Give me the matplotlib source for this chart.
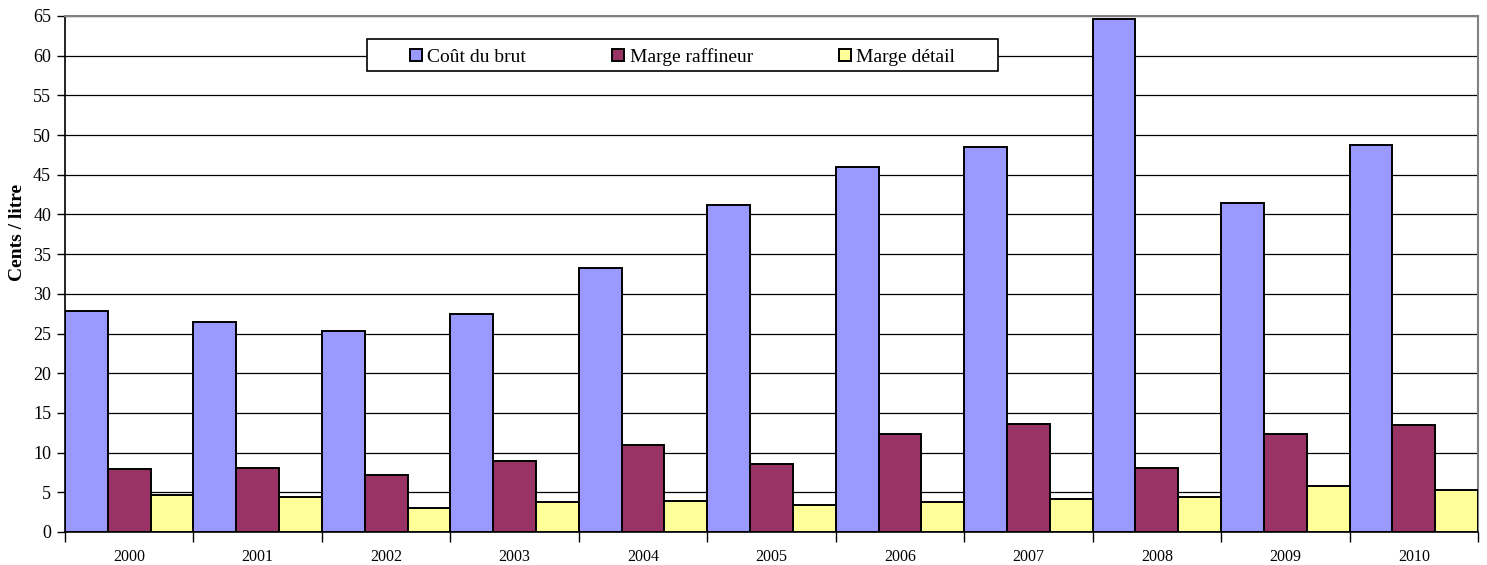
import matplotlib
matplotlib.use("Agg")
import matplotlib.pyplot as plt
from matplotlib.patches import Rectangle
import numpy as np

years = ["2000", "2001", "2002", "2003", "2004", "2005", "2006", "2007", "2008", "2009", "2010"]
cout_brut = [27.9, 26.5, 25.3, 27.4, 33.2, 41.2, 46.0, 48.5, 64.6, 41.5, 48.8]
marge_raffineur = [7.95, 8.0, 7.2, 9.0, 11.0, 8.6, 12.3, 13.6, 8.1, 12.3, 13.5]
marge_detail = [4.6, 4.4, 3.0, 3.8, 3.9, 3.4, 3.8, 4.1, 4.45, 5.8, 5.3]
series_names = ["Coût du brut", "Marge raffineur", "Marge détail"]
colors = ["#9999FF", "#993366", "#FFFF99"]
yticks = list(range(0, 70, 5))

plt.rcParams['font.family'] = ['Liberation Serif', 'DejaVu Serif']

fig = plt.figure(figsize=(14.87, 5.65), dpi=100)
ax = fig.add_axes([65/1487, 1 - 532/565, (1478 - 65)/1487, (532 - 16)/565])

x = np.arange(len(years))
w = 1/3
for i, (vals, name, c) in enumerate(zip([cout_brut, marge_raffineur, marge_detail], series_names, colors)):
    ax.bar(x - 0.5 + i*w, vals, width=w, align='edge', color=c, edgecolor='black',
           linewidth=1.4, label=name, zorder=3)

ax.set_xlim(-0.5, len(years) - 0.5)
ax.set_ylim(0, 65)
ax.set_yticks(yticks)
ax.set_yticklabels([str(t) for t in yticks], fontsize=13)
ax.yaxis.grid(True, color='black', linewidth=0.9, zorder=0)
ax.set_axisbelow(True)

ax.set_xticks(np.arange(len(years) + 1) - 0.5)
ax.set_xticklabels([])
ax.set_xticks(x, minor=True)
ax.set_xticklabels(years, minor=True, fontsize=11.5)
ax.tick_params(axis='x', which='minor', length=0, pad=12)
ax.tick_params(axis='x', which='major', length=7, width=1, direction='out')
ax.tick_params(axis='y', length=6, width=1, direction='out', pad=4)

for s in ['top', 'right']:
    ax.spines[s].set_color('#808080')
    ax.spines[s].set_linewidth(1.5)
for s in ['left', 'bottom']:
    ax.spines[s].set_color('black')
    ax.spines[s].set_linewidth(1.2)

ax.set_ylabel("Cents / litre", fontsize=14, fontweight='bold')
ax.yaxis.label.set_va('center')
ax.yaxis.set_label_coords(-0.0333, 0.581)

# legend frame
frame = Rectangle((0.2137, 0.8934), 0.6603 - 0.2137, 0.9554 - 0.8934, transform=ax.transAxes,
                  facecolor='white', edgecolor='black', linewidth=1.2, zorder=5)
ax.add_patch(frame)

leg = ax.legend(loc='center', bbox_to_anchor=(0.437, 0.9205), ncol=3, fontsize=14,
                frameon=False, handlelength=0.62, handleheight=0.62, handletextpad=0.3,
                borderaxespad=0, borderpad=0, columnspacing=4.4)
leg.set_zorder(6)

fig.savefig("out.png", dpi=100, facecolor='white')
